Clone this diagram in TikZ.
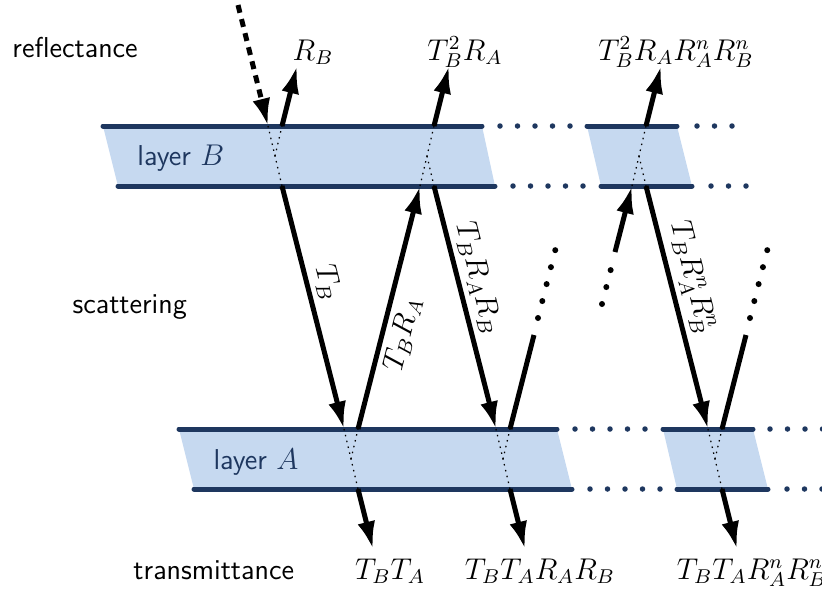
\documentclass[tikz,border=0pt]{standalone}
\usetikzlibrary{arrows.meta}
\definecolor{layerfill}{RGB}{198,217,240}
\definecolor{layerline}{RGB}{30,55,95}
\begin{document}
\begin{tikzpicture}[x=0.4pt,y=-0.4pt,
  font=\fontsize{12}{14}\selectfont,
  lay/.style={line width=2pt, draw=layerline, line cap=round},
  laydots/.style={line width=2.2pt, draw=layerline, line cap=round, dash pattern=on 0pt off 7pt},
  ray/.style={line width=2pt, -{Latex[length=11pt,width=7.2pt]}},
  innerdot/.style={line width=0.5pt, dash pattern=on 0.6pt off 1.8pt},
  raydots/.style={line width=2.4pt, line cap=round, dash pattern=on 0pt off 7pt},
  lbl/.style={anchor=base, inner sep=0pt},
  sidetext/.style={anchor=base west, inner sep=0pt, font=\fontsize{11.5}{14}\selectfont\sffamily},
  laytext/.style={anchor=base west, inner sep=0pt, text=layerline, font=\fontsize{11.5}{14}\selectfont\sffamily},
  rotlbl/.style={sloped, inner sep=2pt},
]
\useasboundingbox (0,0) rectangle (822,595);

% layer fills
\fill[layerfill] (103,126) -- (482,126) -- (495,186) -- (118,186) -- cycle;
\fill[layerfill] (587,126) -- (677,126) -- (692,186) -- (601,186) -- cycle;
\fill[layerfill] (179,429) -- (557,429) -- (572,489) -- (194,489) -- cycle;
\fill[layerfill] (663,429) -- (753,429) -- (768,489) -- (677,489) -- cycle;

% layer boundary lines
\draw[lay] (103,126) -- (482,126);
\draw[lay] (587,126) -- (677,126);
\draw[lay] (118,186) -- (495,186);
\draw[lay] (601,186) -- (692,186);
\draw[lay] (179,429) -- (557,429);
\draw[lay] (663,429) -- (753,429);
\draw[lay] (194,489) -- (572,489);
\draw[lay] (677,489) -- (768,489);
\draw[laydots] (500,126) -- (571,126);
\draw[laydots] (697,126) -- (733,126);
\draw[laydots] (513,186) -- (584,186);
\draw[laydots] (711,186) -- (747,186);
\draw[laydots] (575,429) -- (646,429);
\draw[laydots] (770,429) -- (824,429);
\draw[laydots] (590,489) -- (661,489);
\draw[laydots] (787,489) -- (824,489);

% labels
\node[sidetext] (refl) at (12,57) {reflectance};
\node[sidetext] (scat) at (72,313) {scattering};
\node[sidetext] (trans) at (133,579) {transmittance};
\node[laytext] (layB) at (137,165) {layer $B$};
\node[laytext] (layA) at (213,469) {layer $A$};

% coordinates
\coordinate (inc) at (238,5);
\coordinate (b1in) at (268,126);
\coordinate (b1top) at (282,126);
\coordinate (b1bot) at (282,186);
\coordinate (b1mid) at (275,156);
\coordinate (rb) at (297,66);
\coordinate (a1in) at (344,429);
\coordinate (a1top) at (358,429);
\coordinate (a1bot) at (358,489);
\coordinate (a1mid) at (351,459);
\coordinate (t1) at (373,549);
\coordinate (b2in) at (420,186);
\coordinate (b2top) at (434,126);
\coordinate (b2bot) at (434,186);
\coordinate (b2mid) at (427,156);
\coordinate (r2) at (449,66);
\coordinate (a2in) at (496,429);
\coordinate (a2top) at (510,429);
\coordinate (a2bot) at (510,489);
\coordinate (a2mid) at (503,459);
\coordinate (t2) at (525,549);
\coordinate (u1e) at (534,335);
\coordinate (d1a) at (538,318);
\coordinate (d1b) at (555.5,249.2);
\coordinate (d2a) at (602,304);
\coordinate (d2b) at (610.9,269.1);
\coordinate (u2s) at (615,252);
\coordinate (b3in) at (632,186);
\coordinate (b3top) at (646,126);
\coordinate (b3bot) at (646,186);
\coordinate (b3mid) at (639,156);
\coordinate (r3) at (661,66);
\coordinate (a3in) at (708,429);
\coordinate (a3top) at (722,429);
\coordinate (a3bot) at (722,489);
\coordinate (a3mid) at (715,459);
\coordinate (t3) at (737,549);
\coordinate (u3e) at (746,335);
\coordinate (d3a) at (750,318);
\coordinate (d3b) at (767.5,249.2);

% inner dotted paths
\draw[innerdot] (b1in) -- (b1bot);
\draw[innerdot] (b1mid) -- (b1top);
\draw[innerdot] (a1in) -- (a1bot);
\draw[innerdot] (a1mid) -- (a1top);
\draw[innerdot] (b2in) -- (b2top);
\draw[innerdot] (b2mid) -- (b2bot);
\draw[innerdot] (a2in) -- (a2bot);
\draw[innerdot] (a2mid) -- (a2top);
\draw[innerdot] (b3in) -- (b3top);
\draw[innerdot] (b3mid) -- (b3bot);
\draw[innerdot] (a3in) -- (a3bot);
\draw[innerdot] (a3mid) -- (a3top);

% rays
\draw[ray, dash pattern=on 3.2pt off 2.6pt] (inc) -- (b1in);
\draw[ray] (b1top) -- (rb);
\draw[ray] (b1bot) -- node[rotlbl, pos=0.42, above] {$T_B$} (a1in);
\draw[ray] (a1bot) -- (t1);
\draw[ray] (a1top) -- node[rotlbl, pos=0.41, below] {$T_BR_A$} (b2in);
\draw[ray] (b2top) -- (r2);
\draw[ray] (b2bot) -- node[rotlbl, pos=0.40, above] {$T_BR_AR_B$} (a2in);
\draw[ray] (a2bot) -- (t2);
\draw[line width=2pt] (a2top) -- (u1e);
\draw[raydots] (d1a) -- (d1b);
\draw[raydots] (d2a) -- (d2b);
\draw[ray] (u2s) -- (b3in);
\draw[ray] (b3top) -- (r3);
\draw[ray] (b3bot) -- node[rotlbl, pos=0.40, above] {$T_BR_A^nR_B^n$} (a3in);
\draw[ray] (a3bot) -- (t3);
\draw[line width=2pt] (a3top) -- (u3e);
\draw[raydots] (d3a) -- (d3b);

% end labels
\node[lbl] (lrb) at (313,60) {$R_B$};
\node[lbl] (lr2) at (465,60) {$T_B^2R_A$};
\node[lbl] (lr3) at (676,60) {$T_B^2R_AR_A^nR_B^n$};
\node[lbl] (lt1) at (390,579) {$T_BT_A$};
\node[lbl] (lt2) at (540,579) {$T_BT_AR_AR_B$};
\node[lbl] (lt3) at (752,579) {$T_BT_AR_A^nR_B^n$};
\end{tikzpicture}
\end{document}
